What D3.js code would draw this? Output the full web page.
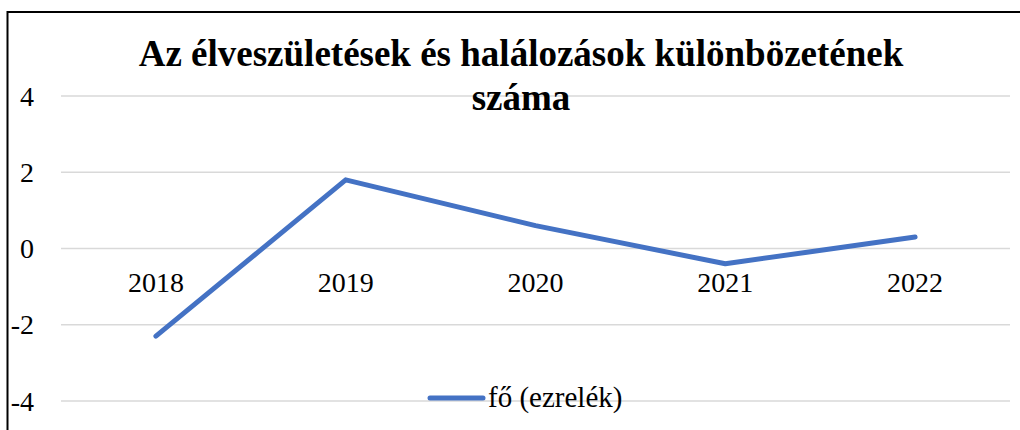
<!DOCTYPE html>
<html>
<head>
<meta charset="utf-8">
<script src="https://cdn.jsdelivr.net/npm/d3@7"></script>
<style>
  body { margin: 0; background: #fff; }
</style>
</head>
<body>
<div id="chart"></div>
<script>
// chart data
const years = ["2018", "2019", "2020", "2021", "2022"];
const values = [-2.3, 1.8, 0.6, -0.4, 0.3];
const yTicks = [4, 2, 0, -2, -4];
const titleLines = ["Az élveszületések és halálozások különbözetének", "száma"];
const seriesName = "fő (ezrelék)";

const width = 1020, height = 430;
const plot = {left: 61, right: 1010, top: 96, bottom: 401};
const lineColor = "#4472C4";
const serif = "'Liberation Serif', 'Times New Roman', 'DejaVu Serif', serif";

const svg = d3.select("#chart").append("svg")
    .attr("width", width)
    .attr("height", height)
    .attr("font-family", serif);

// outer chart border (cropped at right and bottom)
svg.append("rect")
    .attr("x", 7.5).attr("y", 12)
    .attr("width", 1030).attr("height", 440)
    .attr("fill", "#fff")
    .attr("stroke", "#000")
    .attr("stroke-width", 2);

const x = d3.scalePoint()
    .domain(years)
    .range([plot.left, plot.right])
    .padding(0.5);

const y = d3.scaleLinear()
    .domain([-4, 4])
    .range([plot.bottom, plot.top]);

// gridlines
svg.append("g")
    .selectAll("line")
    .data(yTicks)
    .join("line")
    .attr("x1", plot.left).attr("x2", plot.right)
    .attr("y1", d => y(d)).attr("y2", d => y(d))
    .attr("stroke", "#d9d9d9")
    .attr("stroke-width", 1.5);

// y tick labels
svg.append("g")
    .selectAll("text")
    .data(yTicks)
    .join("text")
    .attr("x", 34)
    .attr("y", d => y(d))
    .attr("dy", "0.34em")
    .attr("text-anchor", "end")
    .attr("font-family", serif)
    .attr("font-size", 28)
    .text(d => d);

// category labels sit below the zero line
svg.append("g")
    .selectAll("text")
    .data(years)
    .join("text")
    .attr("x", d => x(d))
    .attr("y", y(0) + 43)
    .attr("text-anchor", "middle")
    .attr("font-family", serif)
    .attr("font-size", 28)
    .text(d => d);

// title
svg.append("text")
    .attr("x", 521)
    .attr("y", 66)
    .attr("text-anchor", "middle")
    .attr("font-family", serif)
    .attr("font-size", 37)
    .attr("font-weight", "bold")
    .selectAll("tspan")
    .data(titleLines)
    .join("tspan")
    .attr("x", 521)
    .attr("dy", (d, i) => i === 0 ? 0 : 44)
    .text(d => d);

// series line
const line = d3.line()
    .x((d, i) => x(years[i]))
    .y(d => y(d));

svg.append("path")
    .datum(values)
    .attr("d", line)
    .attr("fill", "none")
    .attr("stroke", lineColor)
    .attr("stroke-width", 5)
    .attr("stroke-linecap", "round")
    .attr("stroke-linejoin", "round");

// legend
const legend = svg.append("g").attr("transform", "translate(430,398)");
legend.append("line")
    .attr("x1", 0).attr("x2", 53)
    .attr("y1", 0).attr("y2", 0)
    .attr("stroke", lineColor)
    .attr("stroke-width", 5)
    .attr("stroke-linecap", "round");
legend.append("text")
    .attr("x", 58)
    .attr("y", 9)
    .attr("font-family", serif)
    .attr("font-size", 29)
    .text(seriesName);
</script>
</body>
</html>
